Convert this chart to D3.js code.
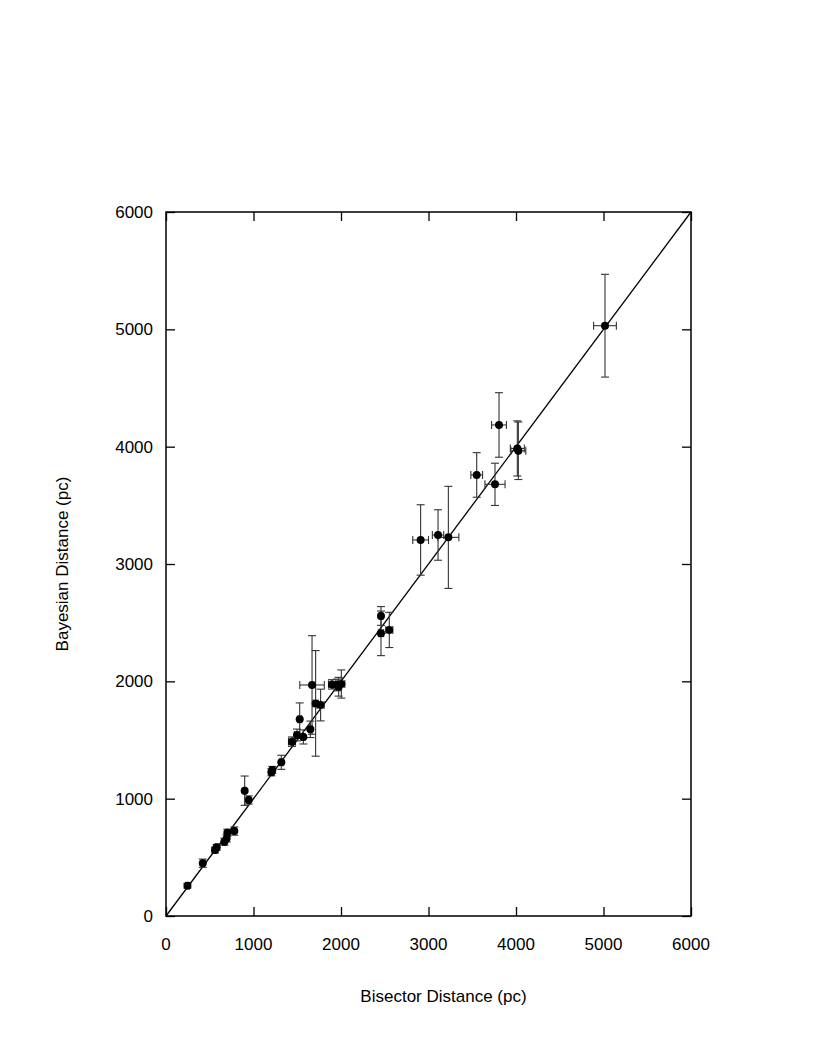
<!DOCTYPE html>
<html>
<head>
<meta charset="utf-8">
<script src="https://cdn.jsdelivr.net/npm/d3@7"></script>
<style>
  body { margin: 0; background: #fff; }
  text { font-family: "Liberation Sans", Arial, sans-serif; }
</style>
</head>
<body>
<svg id="chart" width="830" height="1058"></svg>
<script>
// bisector distance (x) and its error, in pc
var bisector = [245, 420, 560, 580, 667, 693, 701, 781, 899, 945,
  1204, 1215, 1318, 1440, 1497, 1528, 1570, 1650, 1669, 1710,
  1767, 1897, 1954, 1973, 2004, 2457, 2457, 2552, 2910, 3109,
  3227, 3551, 3760, 3806, 4015, 4027, 5017]
var bisectorErr = [20, 15, 15, 15, 15, 15, 15, 15, 15, 15,
  20, 20, 20, 40, 30, 20, 20, 20, 140, 30,
  40, 40, 40, 30, 40, 20, 30, 40, 90, 65,
  120, 67, 115, 85, 80, 85, 130]
// bayesian distance (y) and its error, in pc
var bayes = [258, 450, 562, 585, 633, 661, 710, 724, 1068, 989,
  1225, 1245, 1310, 1486, 1543, 1676, 1526, 1591, 1969, 1812,
  1798, 1974, 1969, 1954, 1977, 2557, 2409, 2438, 3205, 3247,
  3227, 3759, 3679, 4185, 3985, 3965, 5031]
var bayesErr = [20, 35, 25, 25, 30, 30, 30, 35, 125, 35,
  30, 30, 60, 40, 50, 140, 60, 70, 420, 450,
  135, 40, 50, 80, 120, 80, 190, 150, 300, 215,
  435, 190, 180, 275, 235, 245, 438]
var tickValues = [0, 1000, 2000, 3000, 4000, 5000, 6000]

var points = bisector.map(function (d, i) {
  return { x: d, xe: bisectorErr[i], y: bayes[i], ye: bayesErr[i] }
})

// plot box (window.top is reserved, so use other names)
var plotLeft = 166, plotRight = 691, plotTop = 212, plotBottom = 916
var svg = d3.select('#chart')

var x = d3.scaleLinear().domain([0, 6000]).range([plotLeft, plotRight])
var y = d3.scaleLinear().domain([0, 6000]).range([plotBottom, plotTop])

// inward ticks on all four sides
var tickLen = 9
svg.append('g').attr('transform', 'translate(0,' + plotBottom + ')')
  .call(d3.axisTop(x).tickValues(tickValues).tickSize(tickLen).tickFormat(''))
svg.append('g').attr('transform', 'translate(0,' + plotTop + ')')
  .call(d3.axisBottom(x).tickValues(tickValues).tickSize(tickLen).tickFormat(''))
svg.append('g').attr('transform', 'translate(' + plotLeft + ',0)')
  .call(d3.axisRight(y).tickValues(tickValues).tickSize(tickLen).tickFormat(''))
svg.append('g').attr('transform', 'translate(' + plotRight + ',0)')
  .call(d3.axisLeft(y).tickValues(tickValues).tickSize(tickLen).tickFormat(''))
svg.selectAll('.domain').remove()
svg.selectAll('.tick line').attr('stroke', '#000').attr('stroke-width', 1.3)

// tick labels
svg.append('g').selectAll('text').data(tickValues).enter().append('text')
  .attr('x', function (d) { return x(d) })
  .attr('y', plotBottom + 34)
  .attr('text-anchor', 'middle')
  .attr('font-size', 17)
  .text(function (d) { return d })
svg.append('g').selectAll('text').data(tickValues).enter().append('text')
  .attr('x', plotLeft - 13)
  .attr('y', function (d) { return y(d) + 6 })
  .attr('text-anchor', 'end')
  .attr('font-size', 17)
  .text(function (d) { return d })

// axis titles
svg.append('text')
  .attr('x', (plotLeft + plotRight) / 2 + 15)
  .attr('y', 1002)
  .attr('text-anchor', 'middle')
  .attr('font-size', 17)
  .text('Bisector Distance (pc)')
svg.append('text')
  .attr('transform', 'translate(68,' + ((plotTop + plotBottom) / 2) + ') rotate(-90)')
  .attr('text-anchor', 'middle')
  .attr('font-size', 17)
  .text('Bayesian Distance (pc)')

// one-to-one line
svg.append('line')
  .attr('x1', x(0)).attr('y1', y(0))
  .attr('x2', x(6000)).attr('y2', y(6000))
  .attr('stroke', '#000').attr('stroke-width', 1.3)

// error bars
var cap = 4
var bars = svg.append('g').attr('stroke', '#333').attr('stroke-width', 1.1)
points.forEach(function (p) {
  var cx = x(p.x), cy = y(p.y)
  bars.append('line').attr('x1', cx).attr('x2', cx).attr('y1', y(p.y - p.ye)).attr('y2', y(p.y + p.ye))
  bars.append('line').attr('x1', cx - cap).attr('x2', cx + cap).attr('y1', y(p.y - p.ye)).attr('y2', y(p.y - p.ye))
  bars.append('line').attr('x1', cx - cap).attr('x2', cx + cap).attr('y1', y(p.y + p.ye)).attr('y2', y(p.y + p.ye))
  bars.append('line').attr('x1', x(p.x - p.xe)).attr('x2', x(p.x + p.xe)).attr('y1', cy).attr('y2', cy)
  bars.append('line').attr('x1', x(p.x - p.xe)).attr('x2', x(p.x - p.xe)).attr('y1', cy - cap).attr('y2', cy + cap)
  bars.append('line').attr('x1', x(p.x + p.xe)).attr('x2', x(p.x + p.xe)).attr('y1', cy - cap).attr('y2', cy + cap)
})

// points
svg.append('g').selectAll('circle').data(points).enter().append('circle')
  .attr('cx', function (d) { return x(d.x) })
  .attr('cy', function (d) { return y(d.y) })
  .attr('r', 4)
  .attr('fill', '#000')

// frame
svg.append('rect')
  .attr('x', plotLeft).attr('y', plotTop)
  .attr('width', plotRight - plotLeft).attr('height', plotBottom - plotTop)
  .attr('fill', 'none').attr('stroke', '#000').attr('stroke-width', 1.5)
</script>
</body>
</html>
